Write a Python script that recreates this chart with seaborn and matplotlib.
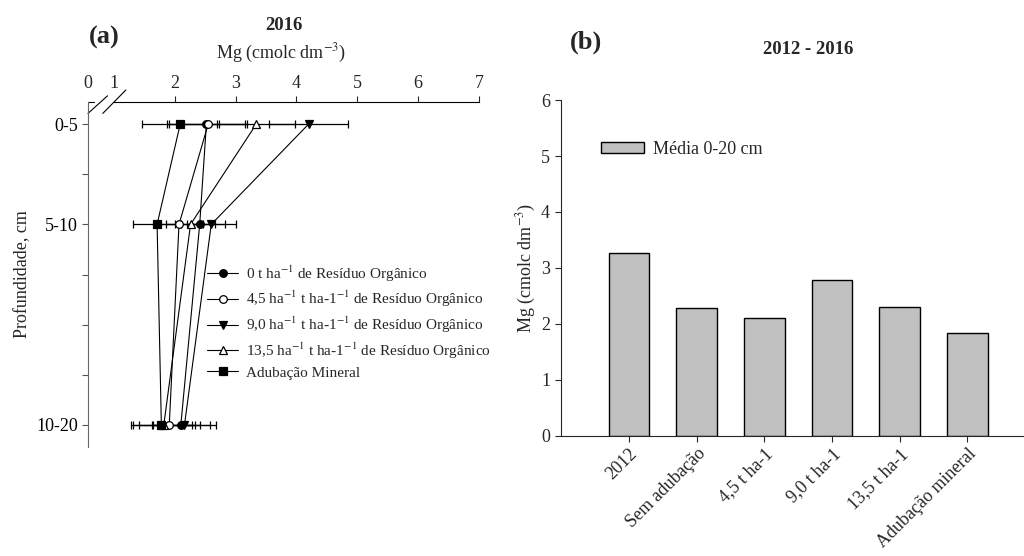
import matplotlib
matplotlib.use('Agg')
import matplotlib.pyplot as plt
import seaborn as sns

# ---- panel (a): Mg by depth, 2016 ----
depth_pos = [5, 10, 20]
depth_labels = ['0-5', '5-10', '10-20']
minor_depths = [7.5, 12.5, 15, 17.5]

series_names = [
    '0 t ha$^{-1}$ de Resíduo Orgânico',
    '4,5 ha$^{-1}$ t ha-1$^{-1}$ de Resíduo Orgânico',
    '9,0 ha$^{-1}$ t ha-1$^{-1}$ de Resíduo Orgânico',
    '13,5 ha$^{-1}$ t ha-1$^{-1}$ de Resíduo Orgânico',
    'Adubação Mineral',
]
mg_0 = [2.52, 2.41, 2.10]
err_0 = [0.64, 0.41, 0.48]
mg_45 = [2.55, 2.07, 1.91]
err_45 = [0.64, 0.40, 0.50]
mg_90 = [4.20, 2.60, 2.16]
err_90 = [0.65, 0.40, 0.51]
mg_135 = [3.34, 2.26, 1.82]
err_135 = [0.64, 0.40, 0.51]
mg_min = [2.09, 1.71, 1.78]
err_min = [0.63, 0.40, 0.50]

# ---- panel (b): mean 0-20 cm, 2012-2016 ----
treatments = ['2012', 'Sem adubação', '4,5 t ha-1', '9,0 t ha-1',
              '13,5 t ha-1', 'Adubação mineral']
mg_mean = [3.26, 2.28, 2.11, 2.78, 2.30, 1.83]

sns.set_style('ticks')
plt.rcParams['font.family'] = ['Liberation Serif', 'DejaVu Serif']
plt.rcParams['mathtext.fontset'] = 'stix'

fig = plt.figure(figsize=(10.24, 5.56), dpi=100)
ax = fig.add_axes([0.0859, 0.196, 0.3819, 0.6205])
ax2 = fig.add_axes([0.548, 0.2164, 0.451, 0.6036])

# ---------------- panel (a) ----------------
styles = [('o', 'black'), ('o', 'white'), ('v', 'black'), ('^', 'white'), ('s', 'black')]
all_vals = [mg_0, mg_45, mg_90, mg_135, mg_min]
all_errs = [err_0, err_45, err_90, err_135, err_min]
for vals, errs in zip(all_vals, all_errs):
    ax.errorbar(vals, depth_pos, xerr=errs, fmt='none',
                ecolor='black', elinewidth=0.9, capsize=3, capthick=0.9, zorder=2)
for vals, name, (mk, fc) in zip(all_vals, series_names, styles):
    sns.lineplot(x=vals, y=depth_pos, sort=False, estimator=None, ax=ax,
                 color='black', lw=0.8, marker=mk, markerfacecolor=fc,
                 markeredgecolor='black', markeredgewidth=0.9, markersize=5.5,
                 label=name, zorder=3)

x_left = 0.574  # axis starts at the (broken) zero
ax.set_xlim(x_left, 7)
ax.set_ylim(21.1, 3.9)
ax.xaxis.tick_top()
ax.set_xticks([2, 3, 4, 5, 6, 7])
ax.set_xticks([x_left, 1], labels=['0', '1'], minor=True)
ax.tick_params(axis='x', which='minor', length=0, pad=7, labelsize=13, top=True, bottom=False)
ax.tick_params(axis='x', which='major', length=4, width=0.8, pad=3, labelsize=13, top=True, bottom=False)
ax.set_yticks(depth_pos, labels=depth_labels)
ax.set_yticks(minor_depths, minor=True)
ax.tick_params(axis='y', which='both', length=4, width=0.8, labelsize=13, pad=3,
               colors='#555555', labelcolor='black')
ax.set_xlabel('')
ax.set_ylabel('Profundidade, cm', fontsize=13, labelpad=4)

for s in ['right', 'bottom']:
    ax.spines[s].set_visible(False)
ax.spines['left'].set_color('#666666')
ax.spines['top'].set_color('black')
ax.spines['top'].set_bounds(1.0, 7)

# axis break marks
ax.plot([0, 0.016], [1, 1], color='black', lw=0.8, transform=ax.transAxes, clip_on=False)
ax.plot([0, 0.05], [0.967, 1.018], color='black', lw=0.8, transform=ax.transAxes, clip_on=False)
ax.plot([0.038, 0.097], [0.967, 1.035], color='black', lw=0.8, transform=ax.transAxes, clip_on=False)

ax.legend(loc='upper left', bbox_to_anchor=(0.29, 0.55), frameon=False, fontsize=11,
          handlelength=2.0, handletextpad=0.5, labelspacing=0.35, borderaxespad=0)

fig.text(104 / 1024, 1 - 37 / 556, '(a)', ha='center', va='center', fontsize=19, weight='bold')
fig.text(284 / 1024, 1 - 25 / 556, '2016', ha='center', va='center', fontsize=13.5, weight='bold')
fig.text(281 / 1024, 1 - 53 / 556, 'Mg (cmolc dm$^{-3}$)', ha='center', va='center', fontsize=13)

# ---------------- panel (b) ----------------
sns.barplot(x=treatments, y=mg_mean, color='#c0c0c0', saturation=1, edgecolor='black',
            linewidth=1, width=0.6, ax=ax2, label='Média 0-20 cm')
ax2.set_xlim(-1.0, 5.82)
ax2.set_ylim(0, 6)
ax2.set_yticks([0, 1, 2, 3, 4, 5, 6])
ax2.tick_params(axis='both', length=4, width=0.8, labelsize=13, pad=3)
ax2.tick_params(axis='y', pad=4)
for lab in ax2.get_xticklabels():
    lab.set_rotation(45)
    lab.set_ha('right')
    lab.set_rotation_mode('anchor')
ax2.set_xlabel('')
ax2.set_ylabel('Mg (cmolc dm$^{-3}$)', fontsize=13, labelpad=2)
sns.despine(ax=ax2)
ax2.legend(loc='upper left', bbox_to_anchor=(0.07, 0.9), frameon=False, fontsize=13,
           handlelength=2.4, handleheight=0.6, handletextpad=0.5, borderaxespad=0)

fig.text(586 / 1024, 1 - 42 / 556, '(b)', ha='center', va='center', fontsize=19, weight='bold')
fig.text(808 / 1024, 1 - 50 / 556, '2012 - 2016', ha='center', va='center', fontsize=13.5, weight='bold')

fig.savefig('out.png', dpi=100)
